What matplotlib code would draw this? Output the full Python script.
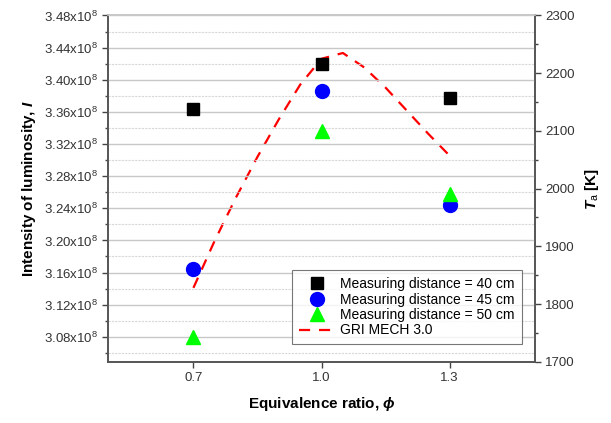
import matplotlib
matplotlib.use("Agg")
import matplotlib.pyplot as plt
from matplotlib.ticker import FuncFormatter, MultipleLocator

plt.rcParams['font.family'] = ['Liberation Sans', 'DejaVu Sans']
plt.rcParams['mathtext.fontset'] = 'custom'
plt.rcParams['mathtext.rm'] = 'Liberation Sans'
plt.rcParams['mathtext.it'] = 'Liberation Sans:italic:bold'
plt.rcParams['mathtext.bf'] = 'Liberation Sans:bold'

# measured data
phi = [0.7, 1.0, 1.3]
lum_40 = [3.363e8, 3.419e8, 3.377e8]
lum_45 = [3.164e8, 3.386e8, 3.244e8]
lum_50 = [3.080e8, 3.336e8, 3.258e8]

# GRI MECH 3.0 adiabatic temperature
phi_gri = [0.7, 0.75, 0.8, 0.85, 0.9, 0.95, 1.0, 1.05, 1.1, 1.15, 1.2, 1.25, 1.3]
t_gri = [1828, 1910, 1985, 2055, 2120, 2180, 2225, 2235, 2210, 2175, 2135, 2095, 2057]

xticks = [0.7, 1.0, 1.3]

fig = plt.figure(figsize=(6.11, 4.23), dpi=100)
ax = fig.add_axes([0.1768, 0.1449, 0.6988, 0.8185])
ax2 = ax.twinx()

ax.set_zorder(2)
ax.patch.set_visible(False)

# grid
ax.yaxis.set_major_locator(MultipleLocator(0.04e8))
ax.yaxis.set_minor_locator(MultipleLocator(0.02e8))
ax.grid(which='major', axis='y', color='#c8c8c8', lw=1.0)
ax.grid(which='minor', axis='y', color='#d8d8d8', lw=0.8, ls=(0, (2, 1)))
ax.set_axisbelow(True)

h1, = ax.plot(phi, lum_40, 's', color='black', ms=9, label='Measuring distance = 40 cm', zorder=3)
h2, = ax.plot(phi, lum_45, 'o', color='blue', ms=10, label='Measuring distance = 45 cm', zorder=3)
h3, = ax.plot(phi, lum_50, '^', color='#00ff00', ms=10, label='Measuring distance = 50 cm', zorder=3)
h4, = ax2.plot(phi_gri, t_gri, color='red', lw=1.6, ls=(0, (5, 4)), label='GRI MECH 3.0')

ax.set_xlim(0.5, 1.5)
ax.set_ylim(3.049e8, 3.48e8)
ax2.set_ylim(1700, 2300)
ax.set_xticks(xticks)
ax.set_xticklabels(['%.1f' % v for v in xticks])

def fmt(v, pos):
    return r'%.2fx10$^{\mathrm{8}}$' % (v / 1e8)

ax.yaxis.set_major_formatter(FuncFormatter(fmt))
ax2.yaxis.set_major_locator(MultipleLocator(100))
ax2.yaxis.set_minor_locator(MultipleLocator(50))

for a in (ax, ax2):
    a.tick_params(which='major', direction='out', length=4, width=1, color='#444444', labelsize=9.5, labelcolor='#333333')
    a.tick_params(which='minor', direction='out', length=2, width=1, color='#444444')
    for s in a.spines.values():
        s.set_color('#555555')
        s.set_linewidth(1.2)
    a.spines['top'].set_color('#c8c8c8')

ax.set_xlabel(r'Equivalence ratio, $\mathit{\phi}$', fontsize=11, fontweight='bold', labelpad=8)
ax.set_ylabel(r'Intensity of luminosity, $\mathit{I}$', fontsize=11, fontweight='bold', labelpad=4)
ax2.set_ylabel(r'$\mathit{T}_{\mathrm{a}}$ [K]', fontsize=11, fontweight='bold', labelpad=6)

leg = ax.legend(handles=[h1, h2, h3, h4], loc='lower right', bbox_to_anchor=(0.985, 0.03),
                fontsize=10, frameon=True, fancybox=False, edgecolor='#555555',
                handlelength=2.6, handletextpad=0.4, borderpad=0.5, labelspacing=0.1)
leg.get_frame().set_linewidth(0.8)

fig.savefig('out.png', dpi=100)
